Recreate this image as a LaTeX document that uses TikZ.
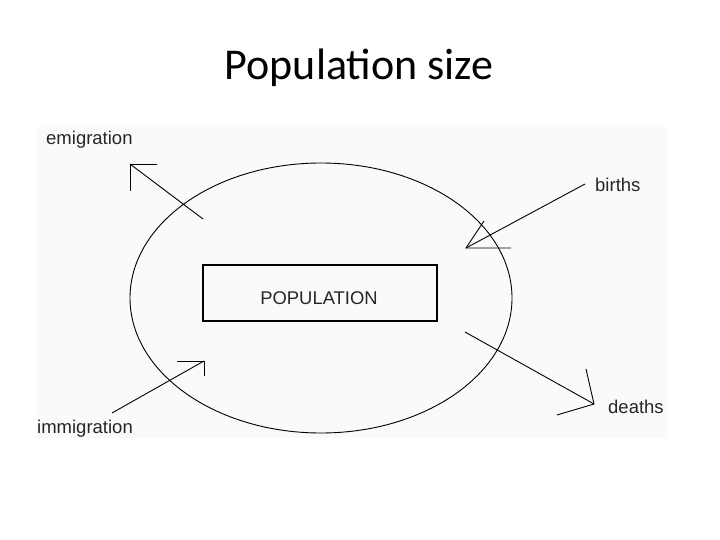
\documentclass[tikz,border=0pt]{standalone}
\usepackage{fontspec}
\usetikzlibrary{shapes.geometric}
\setmainfont{Carlito}
\newfontfamily\arialfont{Liberation Sans}
\definecolor{panelbg}{RGB}{250,250,250}
\begin{document}
\begin{tikzpicture}[x=1pt,y=-1pt,
  thinline/.style={line width=0.9pt, black},
  lbl/.style={font=\arialfont\fontsize{18.5}{20}\selectfont, inner sep=0pt, text=black!85, anchor=base west}]
\useasboundingbox (0,0) rectangle (720,540);
\fill[panelbg] (36,127) rectangle (668,438);
% title
\node[font=\fontsize{44}{48}\selectfont, inner sep=0pt] (title) at (359,68) {Population size};
% ellipse
\node[draw, thinline, ellipse, minimum width=382pt, minimum height=270pt, inner sep=0pt] (pop) at (321,298) {};
% box
\node[draw, line width=1.1pt, minimum width=234pt, minimum height=56pt, inner sep=0pt] (box) at (320,293) {};
\node[font=\arialfont\fontsize{18.4}{20}\selectfont, text=black!85, inner sep=0pt, anchor=base] (boxtext) at (319,304) {POPULATION};
% labels
\node[lbl] (emig) at (46,145) {emigration};
\node[lbl] (births) at (595,192) {births};
\node[lbl] (immig) at (37,433) {immigration};
\node[lbl] (deaths) at (608,413) {deaths};
% emigration arrow
\coordinate (emigTail) at (203,219);
\coordinate (emigTip) at (130,164);
\draw[thinline] (emigTail) -- (emigTip);
\draw[thinline] (157,164) -- (emigTip) -- (130,191);
% births arrow
\coordinate (birthsTail) at (585,184);
\coordinate (birthsTip) at (466,248);
\draw[thinline] (birthsTail) -- (birthsTip);
\draw[thinline] (484,221) -- (birthsTip) -- (511,248);
% immigration arrow
\coordinate (immigTail) at (112,413);
\coordinate (immigTip) at (204,361);
\draw[thinline] (immigTail) -- (immigTip);
\draw[thinline] (177,361) -- (immigTip) -- (204,376);
% deaths arrow
\coordinate (deathsTail) at (465,332);
\coordinate (deathsTip) at (594,404);
\draw[thinline] (deathsTail) -- (deathsTip);
\draw[thinline] (586,369) -- (deathsTip) -- (557,415);
\end{tikzpicture}
\end{document}
